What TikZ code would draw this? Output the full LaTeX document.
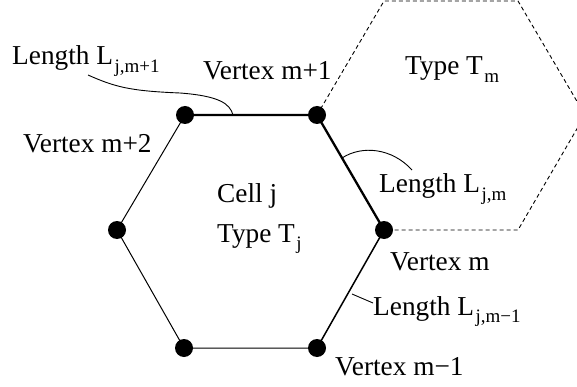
\documentclass[tikz,border=0pt]{standalone}
\usepackage{fontspec}
\setmainfont{Liberation Serif}
\newcommand\sbs[1]{\hspace{1.5pt}\raisebox{-0.27em}{\fontsize{19}{19}\selectfont #1}}
\begin{document}
\begin{tikzpicture}[x=1pt,y=-1pt,
  lbl/.style={anchor=base west,inner sep=0pt,font=\fontsize{27.3}{30}\selectfont},
  thinedge/.style={line width=1pt},
  thickedge/.style={line width=2.3pt},
  midedge/.style={line width=1.5pt},
  dashededge/.style={line width=0.9pt,dash pattern=on 4pt off 3pt},
  leader/.style={line width=0.9pt},
  vdot/.style={circle,fill=black,inner sep=0pt,minimum size=18pt}]
\useasboundingbox (0,0) rectangle (577,387);
\begin{scope}
\clip (0,-2) rectangle (577,387);
% vertices of cell j
\coordinate (vt) at (185,115);
\coordinate (v1) at (317,115);
\coordinate (vm) at (384,230);
\coordinate (vm1) at (317,348);
\coordinate (vb) at (184,348);
\coordinate (vl) at (117,230);
% neighbour cell
\coordinate (d1) at (384,1);
\coordinate (d2) at (518,1);
\coordinate (d3) at (585,115);
\coordinate (d4) at (518,230);
\draw[dashededge] (v1) -- (d1) -- (d2) -- (d3) -- (d4) -- (vm);
\draw[thickedge] (vt) -- (v1) -- (vm);
\draw[midedge] (vm) -- (vm1);
\draw[thinedge] (vm1) -- (vb) -- (vl) -- (vt);
\end{scope}
\foreach \p in {vt,v1,vm,vm1,vb,vl} \node[vdot] (n\p) at (\p) {};
% labels
\node[lbl] (lm1) at (12,65) {Length L\sbs{j,m+1}};
\node[lbl] (tv1) at (203,80) {Vertex m+1};
\node[lbl] (ttm) at (405,75) {Type T\sbs{m}};
\node[lbl] (tv2) at (23,153) {Vertex m+2};
\node[lbl] (tcell) at (217,203) {Cell j};
\node[lbl] (ttj) at (217,242) {Type T\sbs{j}};
\node[lbl] (ljm) at (379,193) {Length L\sbs{j,m}};
\node[lbl] (tvm) at (390,270) {Vertex m};
\node[lbl] (ljm1) at (373,315) {Length L\sbs{j,m−1}};
\node[lbl] (tvm1) at (335,375) {Vertex m−1};
% leaders
\coordinate (a1) at (88,75);
\coordinate (b1) at (233,115);
\draw[leader] (a1) .. controls (115,87) and (130,91) .. (180,93) .. controls (220,96) and (230,104) .. (b1);
\coordinate (a2) at (342,158);
\coordinate (b2) at (412,170);
\draw[leader] (a2) .. controls (362,145) and (392,148) .. (b2);
\coordinate (a3) at (352,294);
\coordinate (b3) at (373,303);
\draw[leader] (a3) -- (b3);
\end{tikzpicture}
\end{document}
